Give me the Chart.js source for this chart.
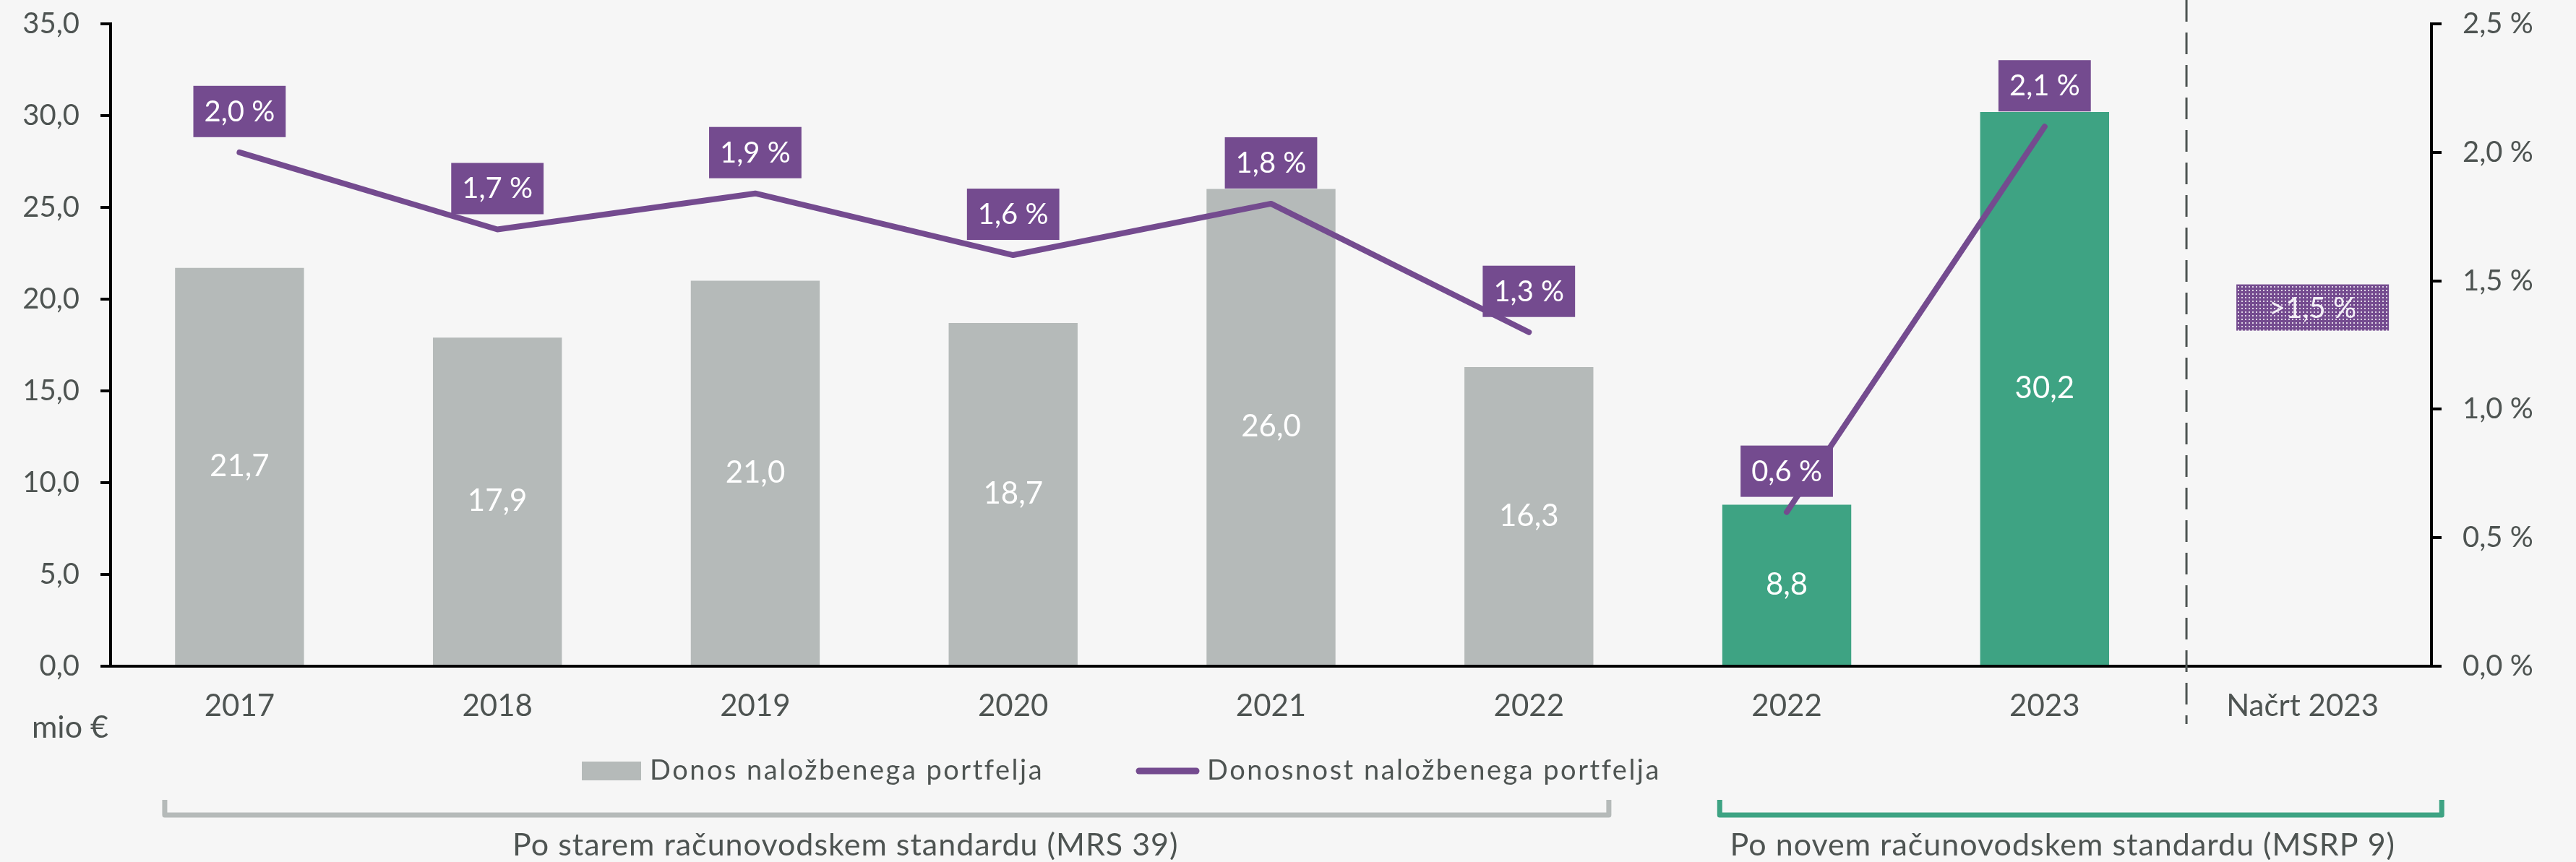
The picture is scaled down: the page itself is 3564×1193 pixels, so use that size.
<!DOCTYPE html>
<html>
<head>
<meta charset="utf-8">
<script src="https://cdn.jsdelivr.net/npm/chart.js@4.4.1/dist/chart.umd.min.js"></script>
<style>
  html, body { margin: 0; padding: 0; background: #f6f6f6; }
  #wrap { width: 3564px; height: 1193px; }
</style>
</head>
<body>
<div id="wrap"><canvas id="chart-donos" width="3564" height="1193"></canvas></div>
<script>
// categories
var years = ['2017', '2018', '2019', '2020', '2021', '2022', '2022', '2023', 'Načrt 2023'];
// Donos naložbenega portfelja (mio €)
var donos = [21.7, 17.9, 21.0, 18.7, 26.0, 16.3, 8.8, 30.2, null];
// Donosnost naložbenega portfelja (%)
var donosnost = [2.0, 1.7, 1.84, 1.6, 1.8, 1.3, 0.6, 2.1, null];
var donosnostLabels = ['2,0 %', '1,7 %', '1,9 %', '1,6 %', '1,8 %', '1,3 %', '0,6 %', '2,1 %', null];
// plan value (only label shown)
var nacrt = [null, null, null, null, null, null, null, null, 1.5];
var nacrtLabel = '>1,5 %';
// old / new standard per category
var standard = ['old', 'old', 'old', 'old', 'old', 'old', 'new', 'new', 'new'];
var groupNames = ['Po starem računovodskem standardu (MRS 39)', 'Po novem računovodskem standardu (MSRP 9)'];
var unitLabel = 'mio €';

const GRAY = '#b5bab9';
const GREEN = '#3ea383';
const PURPLE = '#744b8f';
const TEXT = '#4e5452';
const FONT = 'Lato, "Open Sans", sans-serif';

function fmt(v) {
    return v.toFixed(1).replace('.', ',');
}

// dotted purple pattern for the plan label
function makePattern(ctx) {
    const tile = document.createElement('canvas');
    tile.width = 5;
    tile.height = 5;
    const t = tile.getContext('2d');
    t.fillStyle = PURPLE;
    t.fillRect(0, 0, 5, 5);
    t.fillStyle = 'rgba(255,255,255,0.75)';
    t.fillRect(1, 1, 2, 2);
    return ctx.createPattern(tile, 'repeat');
}

const extrasPlugin = {
    id: 'extras',
    beforeDraw(chart) {
        const ctx = chart.ctx;
        ctx.save();
        ctx.fillStyle = '#f6f6f6';
        ctx.fillRect(0, 0, chart.width, chart.height);
        ctx.restore();
    },
    afterDatasetsDraw(chart) {
        const ctx = chart.ctx;
        const x = chart.scales.x;
        ctx.save();

        // bar values
        const barMeta = chart.getDatasetMeta(1);
        ctx.font = '42px ' + FONT;
        ctx.fillStyle = '#ffffff';
        ctx.textAlign = 'center';
        ctx.textBaseline = 'middle';
        barMeta.data.forEach(function(bar, i) {
            if (donos[i] == null) return;
            ctx.fillText(fmt(donos[i]), bar.x, (bar.y + bar.base) / 2);
        });

        // dashed separator before the plan
        const sx = x.getPixelForValue(7.55);
        ctx.strokeStyle = TEXT;
        ctx.lineWidth = 3;
        ctx.setLineDash([30, 15]);
        ctx.beginPath();
        ctx.moveTo(sx, 0);
        ctx.lineTo(sx, 1002);
        ctx.stroke();
        ctx.setLineDash([]);

        // line labels
        const lineMeta = chart.getDatasetMeta(0);
        ctx.font = '40px ' + FONT;
        lineMeta.data.forEach(function(pt, i) {
            const txt = donosnostLabels[i];
            if (!txt) return;
            const w = ctx.measureText(txt).width + 30;
            const cy = pt.y - 57;
            ctx.fillStyle = PURPLE;
            ctx.fillRect(pt.x - w / 2, cy - 35, w, 71);
            ctx.fillStyle = '#ffffff';
            ctx.fillText(txt, pt.x, cy + 1);
        });

        // plan label
        const planMeta = chart.getDatasetMeta(2);
        const pp = planMeta.data[8];
        const pw = 211;
        const pcy = pp.y + 37;
        ctx.fillStyle = makePattern(ctx);
        ctx.fillRect(pp.x + 14 - pw / 2, pcy - 32, pw, 64);
        ctx.fillStyle = 'rgba(255,255,255,0.9)';
        ctx.fillText(nacrtLabel, pp.x + 14, pcy + 1);

        // unit
        ctx.fillStyle = TEXT;
        ctx.textAlign = 'left';
        ctx.font = '43px ' + FONT;
        ctx.fillText(unitLabel, 44, 1007);

        // legend
        const lx = 805;
        const ly = 1067;
        ctx.font = '38px ' + FONT;
        ctx.letterSpacing = '2.5px';
        ctx.fillStyle = GRAY;
        ctx.fillRect(lx, ly - 13, 82, 26);
        ctx.fillStyle = TEXT;
        ctx.fillText(chart.data.datasets[1].label, lx + 94, ly);
        ctx.strokeStyle = PURPLE;
        ctx.lineWidth = 9;
        ctx.lineCap = 'round';
        ctx.beginPath();
        ctx.moveTo(lx + 771, ly);
        ctx.lineTo(lx + 850, ly);
        ctx.stroke();
        ctx.fillText(chart.data.datasets[0].label, lx + 865, ly);

        // brackets for the two standards
        ctx.letterSpacing = '1px';
        ctx.lineWidth = 7;
        ctx.lineCap = 'butt';
        ctx.lineJoin = 'round';
        [[-0.29, 5.31, GRAY, 2.35], [5.74, 8.54, GREEN, 7.07]].forEach(function(b, k) {
            const x1 = x.getPixelForValue(b[0]);
            const x2 = x.getPixelForValue(b[1]);
            ctx.strokeStyle = b[2];
            ctx.beginPath();
            ctx.moveTo(x1, 1107);
            ctx.lineTo(x1, 1128);
            ctx.lineTo(x2, 1128);
            ctx.lineTo(x2, 1107);
            ctx.stroke();
            ctx.fillStyle = TEXT;
            ctx.textAlign = 'center';
            ctx.font = '43px ' + FONT;
            ctx.fillText(groupNames[k], x.getPixelForValue(b[3]), 1170);
        });

        ctx.restore();
    }
};

const ctx = document.getElementById('chart-donos').getContext('2d');

new Chart(ctx, {
    type: 'bar',
    data: {
        labels: years,
        datasets: [
            {
                type: 'line',
                label: 'Donosnost naložbenega portfelja',
                data: donosnost,
                yAxisID: 'y1',
                borderColor: PURPLE,
                borderWidth: 8,
                borderCapStyle: 'round',
                borderJoinStyle: 'round',
                pointRadius: 0,
                fill: false,
                order: 0,
                segment: {
                    borderColor: function(c) {
                        return standard[c.p0DataIndex] !== standard[c.p1DataIndex] ? 'transparent' : PURPLE;
                    }
                }
            },
            {
                type: 'bar',
                label: 'Donos naložbenega portfelja',
                data: donos,
                yAxisID: 'y',
                backgroundColor: standard.map(function(s) { return s === 'old' ? GRAY : GREEN; }),
                barPercentage: 1,
                categoryPercentage: 0.5,
                order: 1
            },
            {
                type: 'line',
                label: 'Načrt',
                data: nacrt,
                yAxisID: 'y1',
                showLine: false,
                pointRadius: 0,
                order: 2
            }
        ]
    },
    options: {
        responsive: false,
        animation: false,
        layout: { padding: { top: 33, left: 0, right: 0, bottom: 0 } },
        plugins: {
            legend: { display: false },
            tooltip: { enabled: false }
        },
        scales: {
            x: {
                grid: { display: false, drawTicks: false },
                border: { display: true, color: '#000000', width: 4 },
                ticks: {
                    color: TEXT,
                    font: { family: FONT, size: 42 },
                    padding: 30,
                    maxRotation: 0,
                    autoSkip: false
                },
                afterFit: function(s) { s.height = 271; }
            },
            y: {
                position: 'left',
                min: 0,
                max: 35,
                ticks: {
                    stepSize: 5,
                    padding: 29,
                    color: TEXT,
                    font: { family: FONT, size: 40 },
                    callback: function(v) { return fmt(v); }
                },
                grid: { drawOnChartArea: false, drawTicks: true, tickLength: 14, color: '#000000', lineWidth: 4 },
                border: { display: true, color: '#000000', width: 4 },
                afterFit: function(s) { s.width = 153; s.paddingTop = 0; s.paddingBottom = 0; }
            },
            y1: {
                position: 'right',
                min: 0,
                max: 2.5,
                ticks: {
                    stepSize: 0.5,
                    padding: 29,
                    color: TEXT,
                    font: { family: FONT, size: 40 },
                    callback: function(v) { return fmt(v) + ' %'; }
                },
                grid: { drawOnChartArea: false, drawTicks: true, tickLength: 14, color: '#000000', lineWidth: 4 },
                border: { display: true, color: '#000000', width: 4 },
                afterFit: function(s) { s.width = 200; s.paddingTop = 0; s.paddingBottom = 0; }
            }
        }
    },
    plugins: [extrasPlugin]
});
</script>
</body>
</html>
